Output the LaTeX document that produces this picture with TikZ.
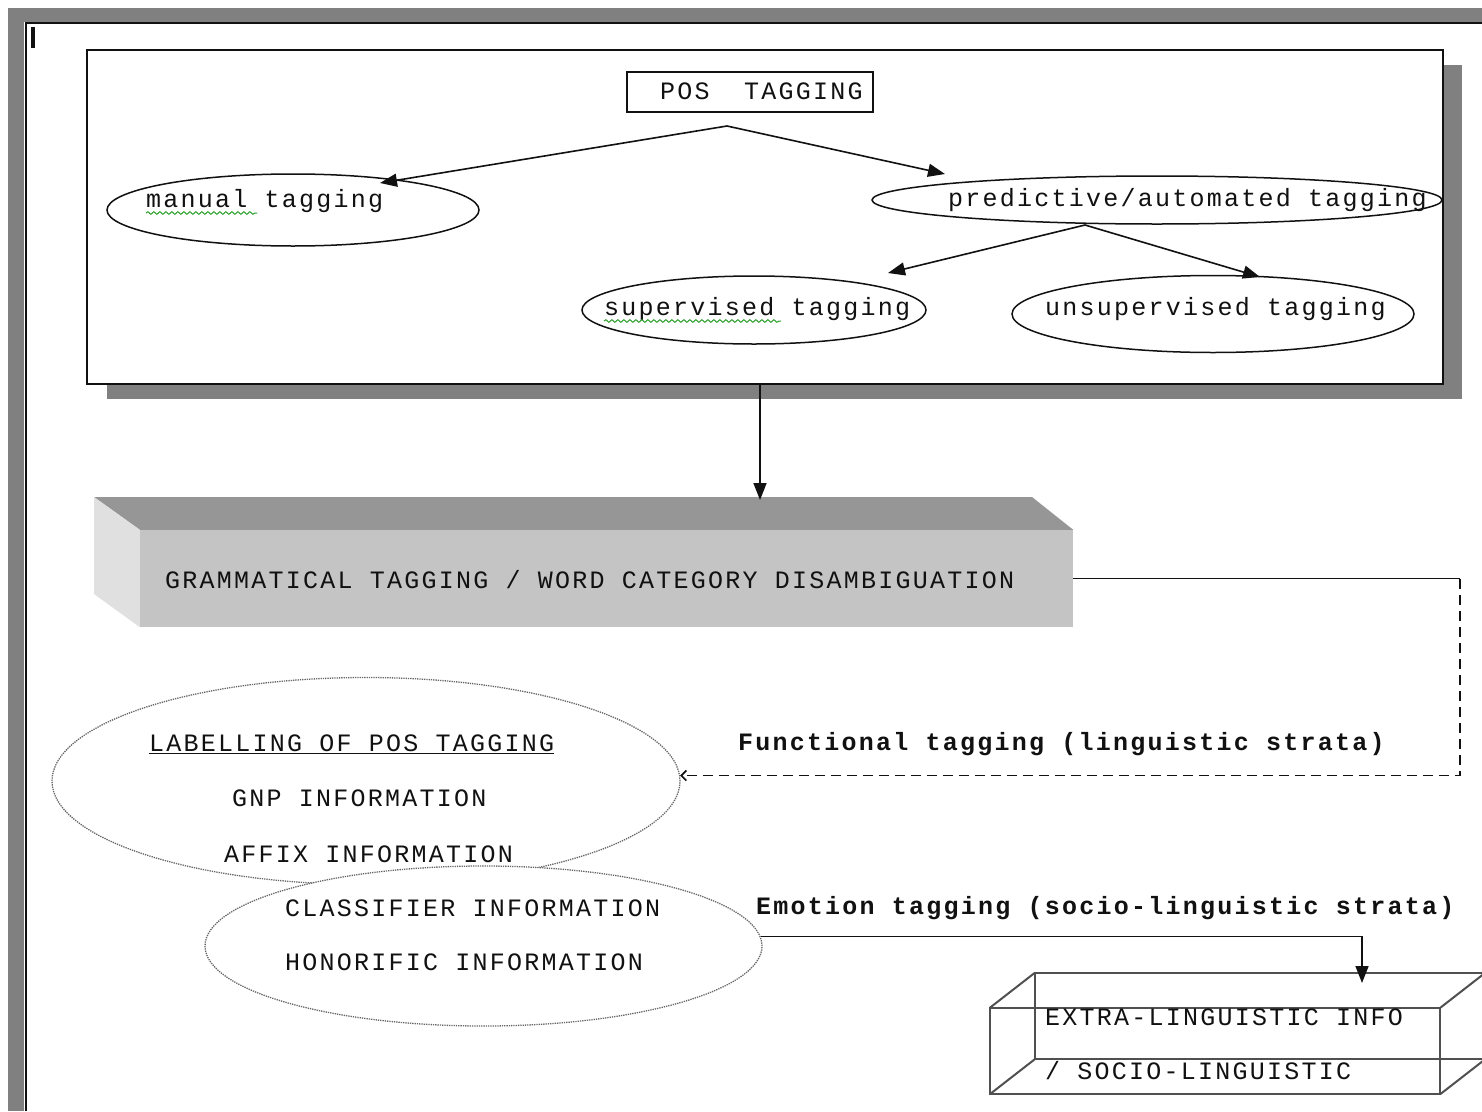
\documentclass[tikz,border=0pt]{standalone}
\usepackage{fontspec}
\newfontfamily\wordmono{Liberation Mono}[LetterSpace=9]
\usetikzlibrary{arrows.meta,positioning,calc,shapes.geometric,decorations.pathmorphing}
\definecolor{Ink}{HTML}{111111}
\definecolor{Frame}{HTML}{808080}
\definecolor{Shade}{HTML}{808080}
\definecolor{TopFace}{HTML}{969696}
\definecolor{FrontFace}{HTML}{C4C4C4}
\definecolor{SideFace}{HTML}{E0E0E0}
\definecolor{Cage}{HTML}{505050}
\definecolor{Dots}{HTML}{666666}
\definecolor{Squig}{HTML}{2AA02A}

\begin{document}
\begin{tikzpicture}[x=1pt,y=-1pt,font=\wordmono\fontsize{25}{29}\selectfont,
 txt/.style={anchor=west,inner sep=0pt,text=Ink},
 box/.style={draw=Ink,line width=1.5pt,inner sep=0pt},
 oval/.style={ellipse,draw=Ink,line width=1.5pt,inner sep=0pt},
 dotoval/.style={ellipse,draw=Dots,densely dotted,line width=1.3pt,fill=white,inner sep=0pt},
 flow/.style={-{Triangle[length=17pt,width=13pt]},line width=1.6pt,draw=Ink},
 wire/.style={line width=1.6pt,draw=Ink},
 dashwire/.style={line width=1.6pt,draw=Ink,dash pattern=on 10pt off 6pt},
 cage/.style={line width=2pt,draw=Cage},
 squig/.style={draw=Squig,line width=1pt,decorate,decoration={snake,amplitude=1.3pt,segment length=6pt}}]
 \useasboundingbox (0,0) rectangle (1482,1111);
 % page edge
 \fill[Frame] (8,8) rectangle (1482,22);
 \fill[Frame] (8,22) rectangle (24,1111);
 \draw[wire] (26,1111) -- (26,23) -- (1482,23);
 \fill[Ink] (31,27) rectangle (35,48);

 % top panel
 \fill[Shade] (107,65) rectangle (1462,399);
 \node[box,fill=white,minimum width=1356pt,minimum height=334pt] (panel) at (765,217) {};
 \node[box,minimum width=246pt,minimum height=40pt] (pos) at (750,92) {};
 \node[txt] (postext) at (660,91) {POS\ \ TAGGING};
 \node[oval,minimum width=372pt,minimum height=72pt] (manual) at (293,210) {};
 \node[txt] (mantext) at (146,201) {manual tagging};
 \node[oval,minimum width=570pt,minimum height=48pt] (pred) at (1157,200) {};
 \node[txt] (predtext) at (948,200) {predictive/automated tagging};
 \node[oval,minimum width=344pt,minimum height=68pt] (superv) at (754,310) {};
 \node[txt] (supertext) at (604,309) {supervised tagging};
 \node[oval,minimum width=402pt,minimum height=77pt] (unsup) at (1213,314) {};
 \node[txt] (unsuptext) at (1045,309) {unsupervised tagging};
 \draw[squig] (146,213) -- (257,213);
 \draw[squig] (604,321) -- (781,321);

 \coordinate (split) at (727,126);
 \coordinate (manin) at (380,183);
 \coordinate (predin) at (945,174);
 \coordinate (predfoot) at (1085,225);
 \coordinate (superin) at (888,273);
 \coordinate (unsupin) at (1260,277);
 \draw[flow] (split) -- (manin);
 \draw[flow] (split) -- (predin);
 \draw[flow] (predfoot) -- (superin);
 \draw[flow] (predfoot) -- (unsupin);

 % raised bar
 \node[fill=FrontFace,minimum width=933pt,minimum height=97pt,inner sep=0pt] (gram) at (606.5,578.5) {};
 \fill[TopFace] (94,497) -- (1032,497) -- (gram.north east) -- (gram.north west) -- cycle;
 \fill[SideFace] (94,497) -- (gram.north west) -- (gram.south west) -- (94,594) -- cycle;
 \node[txt] (gramtext) at (165,580) {GRAMMATICAL TAGGING / WORD CATEGORY DISAMBIGUATION};
 \coordinate (drop) at (760,500);
 \draw[flow] (panel.south -| drop) -- (drop);

 % labelling ovals
 \node[dotoval,minimum width=628pt,minimum height=207pt] (labelling) at (366,781) {};
 \node[dotoval,minimum width=557pt,minimum height=160pt] (classif) at (483.5,946) {};
 \node[txt] (labhead) at (149,744) {\underline{LABELLING OF POS TAGGING}};
 \node[txt] (gnp) at (232,798) {GNP INFORMATION};
 \node[txt] (affix) at (224,854) {AFFIX INFORMATION};
 \node[txt] (classtext) at (285,908) {CLASSIFIER INFORMATION};
 \node[txt] (honor) at (285,962) {HONORIFIC INFORMATION};

 \coordinate (bend) at (1460,581);
 \draw[wire] (gram.east) -- (gram.east -| bend);
 \draw[dashwire,-{Straight Barb[length=5pt,width=10pt]}] (gram.east -| bend) -- (bend |- labelling.1) -- (labelling.1);
 \node[txt,font=\wordmono\bfseries\fontsize{25}{29}\selectfont] (functional) at (738,744) {Functional tagging (linguistic strata)};
 \node[txt,font=\wordmono\bfseries\fontsize{25}{29}\selectfont] (emotion) at (756,908) {Emotion tagging (socio-linguistic strata)};

 % wire box
 \node[minimum width=450pt,minimum height=86pt,inner sep=0pt] (extra) at (1215,1051) {};
 \draw[cage] ($(extra.north west)+(45,-35)$) -- ($(extra.north east)+(45,-35)$)
   -- ($(extra.south east)+(45,-35)$) -- ($(extra.south west)+(45,-35)$) -- cycle;
 \draw[cage] (extra.north west) -- ++(45,-35) (extra.north east) -- ++(45,-35)
   (extra.south west) -- ++(45,-35) (extra.south east) -- ++(45,-35);
 \draw[cage] (extra.north west) rectangle (extra.south east);
 \node[txt] (extratext) at (1045,1017) {EXTRA-LINGUISTIC INFO};
 \node[txt] (sociotext) at (1045,1071) {/ SOCIO-LINGUISTIC};
 \coordinate (extratop) at (1362,983);
 \draw[flow] (classif.2) -| (extratop);
\end{tikzpicture}
\end{document}
